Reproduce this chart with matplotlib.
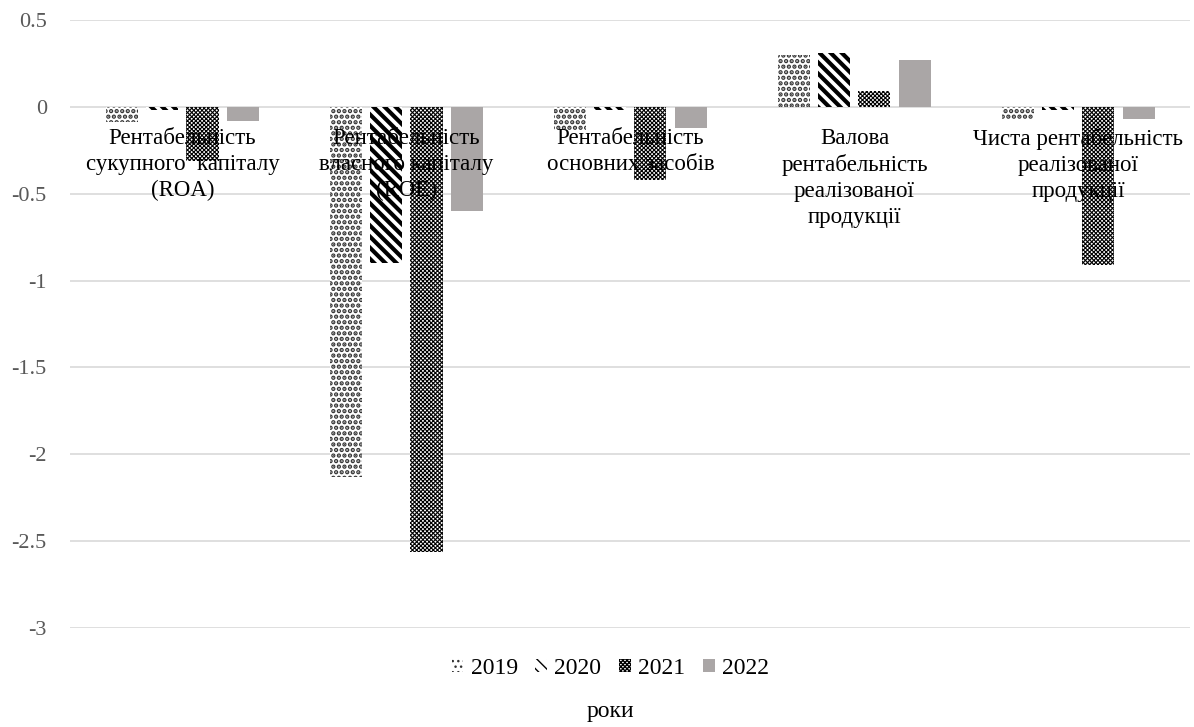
import matplotlib.pyplot as plt
import numpy as np

plt.rcParams['font.family'] = ['Liberation Serif', 'DejaVu Serif']

categories = ['Рентабельність\nсукупного  капіталу\n(ROA)',
              'Рентабельність\nвласного капіталу\n(ROE)',
              'Рентабельність\nосновних засобів',
              'Валова\nрентабельність\nреалізованої\nпродукції',
              'Чиста рентабельність\nреалізованої\nпродукції']
years = ['2019', '2020', '2021', '2022']
v2019 = [-0.09, -2.13, -0.14, 0.30, -0.07]
v2020 = [-0.02, -0.90, -0.02, 0.31, -0.02]
v2021 = [-0.31, -2.56, -0.42, 0.09, -0.91]
v2022 = [-0.08, -0.60, -0.12, 0.27, -0.07]
series = [v2019, v2020, v2021, v2022]

# face, hatch, hatch colour, hatch linewidth
styles = [('white', '...', '#333333', 2.2),
          ('white', '\\\\\\', 'black', 3.0),
          ('white', 'xxxxxxxx', 'black', 0.8),
          ('#aaa6a6', None, '#aaa6a6', 1.0)]

fig = plt.figure(figsize=(11.94, 7.27), dpi=100)
ax = fig.add_axes([0.059, 0.1362, 0.938, 0.8363])

x = np.arange(len(categories))
w = 0.143
step = 0.179
for i, vals in enumerate(series):
    fc, hatch, hc, hlw = styles[i]
    plt.rcParams['hatch.linewidth'] = hlw
    ax.bar(x + (i - 1.5) * step, vals, w, facecolor=fc, edgecolor=hc,
           hatch=hatch, linewidth=0, label=years[i], zorder=2)

ax.set_xlim(-0.5, len(categories) - 0.5)
ax.set_ylim(-3, 0.5)
ax.set_yticks([0.5, 0, -0.5, -1, -1.5, -2, -2.5, -3])
ax.set_yticklabels(['0.5', '0', '-0.5', '-1', '-1.5', '-2', '-2.5', '-3'])
ax.tick_params(axis='y', length=0, labelsize=16, labelcolor='#595959', pad=17)
ax.set_xticks([])
ax.grid(axis='y', color='#d9d9d9', linewidth=1.2, zorder=0)
ax.set_axisbelow(True)
for s in ax.spines.values():
    s.set_visible(False)

for xi, lab in zip(x, categories):
    ax.text(xi, -0.12, lab, ha='center', va='top', fontsize=16.5,
            linespacing=1.32, zorder=5, color='black')

fig.legend(loc='center', bbox_to_anchor=(0.511, 0.081), ncol=4, frameon=False,
           fontsize=17, handlelength=0.5, handleheight=0.5,
           handletextpad=0.3, columnspacing=0.75)
fig.text(0.511, 0.021, 'роки', ha='center', va='center', fontsize=17)

fig.savefig('out.png', dpi=100)
